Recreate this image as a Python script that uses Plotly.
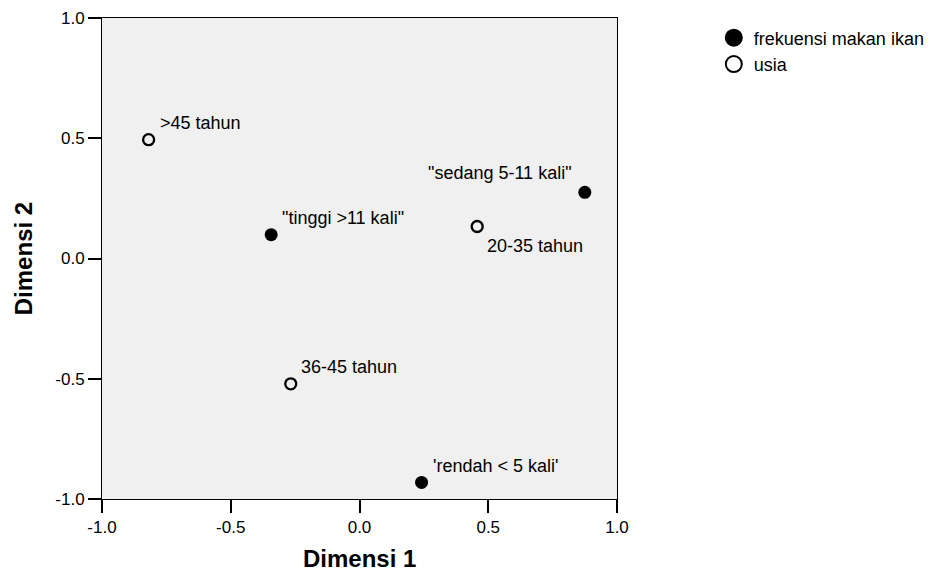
import plotly.graph_objects as go

# ---- data ----
freq_labels = ['"tinggi >11 kali"', '"sedang 5-11 kali"', "'rendah < 5 kali'"]
freq_dim1 = [-0.343, 0.875, 0.241]
freq_dim2 = [0.099, 0.275, -0.931]

usia_labels = [">45 tahun", "20-35 tahun", "36-45 tahun"]
usia_dim1 = [-0.819, 0.457, -0.267]
usia_dim2 = [0.494, 0.133, -0.521]

series_names = ["frekuensi makan ikan", "usia"]
tick_vals = [-1.0, -0.5, 0.0, 0.5, 1.0]
tick_text = ["-1.0", "-0.5", "0.0", "0.5", "1.0"]
x_title = "Dimensi 1"
y_title = "Dimensi 2"

# label placement (style): (xanchor, xshift, yshift)
freq_label_style = [("left", 9, 17), ("right", -11, 19), ("left", 9, 16)]
usia_label_style = [("left", 9, 17), ("left", 8, -19), ("left", 8, 17)]

FONT = "Liberation Sans, Arial, sans-serif"

fig = go.Figure()

fig.add_trace(go.Scatter(
    x=freq_dim1, y=freq_dim2, mode="markers", showlegend=False,
    marker=dict(symbol="circle", size=13, color="black"),
    hoverinfo="skip"))
fig.add_trace(go.Scatter(
    x=usia_dim1, y=usia_dim2, mode="markers", showlegend=False,
    marker=dict(symbol="circle-open", size=11, color="black", line=dict(width=2.3, color="black")),
    hoverinfo="skip"))

# legend-only entries
fig.add_trace(go.Scatter(
    x=[None], y=[None], mode="markers", name=series_names[0], legendgroup="a",
    marker=dict(symbol="circle", size=16, color="black", line=dict(width=2, color="black"))))
fig.add_trace(go.Scatter(
    x=[None], y=[None], mode="markers", name=series_names[1], legendgroup="b",
    marker=dict(symbol="circle-open", size=16, color="black", line=dict(width=2, color="black"))))

annotations = []
for xs, ys, labs, styles in [(freq_dim1, freq_dim2, freq_labels, freq_label_style),
                             (usia_dim1, usia_dim2, usia_labels, usia_label_style)]:
    for xv, yv, lab, (anc, xs_, ys_) in zip(xs, ys, labs, styles):
        annotations.append(dict(
            x=xv, y=yv, xref="x", yref="y", text=lab, showarrow=False,
            xanchor=anc, yanchor="middle", xshift=xs_, yshift=ys_,
            font=dict(family=FONT, size=18, color="black")))

annotations.append(dict(x=0.5, y=-0.1532, xref="paper", yref="paper", text="<b>%s</b>" % x_title,
                        showarrow=False, xanchor="center", yanchor="bottom", borderpad=0,
                        font=dict(family=FONT, size=24, color="black")))
annotations.append(dict(x=-0.152, y=0.5, xref="paper", yref="paper", text="<b>%s</b>" % y_title,
                        showarrow=False, xanchor="center", yanchor="middle", textangle=-90,
                        font=dict(family=FONT, size=24, color="black")))

axis_common = dict(
    range=[-1.0, 1.0], tickmode="array", tickvals=tick_vals, ticktext=tick_text,
    showgrid=False, zeroline=False, showline=True, mirror=True, automargin=False,
    linecolor="black", linewidth=1, ticks="outside", ticklen=13, tickwidth=2,
    tickcolor="black", tickfont=dict(family=FONT, size=17, color="black"),
    fixedrange=True)

# page body has an 8px default margin, so the figure is sized to fit the window
fig.update_layout(
    template="none",
    width=925, height=565,
    margin=dict(l=93.5, r=315.5, t=10.3, b=73.7, pad=0, autoexpand=False),
    paper_bgcolor="white", plot_bgcolor="#f0f0f0",
    xaxis=axis_common, yaxis=axis_common,
    annotations=annotations,
    showlegend=True,
    legend=dict(x=1.188, y=0.997, xanchor="left", yanchor="top",
                font=dict(family=FONT, size=18, color="black"),
                tracegroupgap=0, bgcolor="rgba(0,0,0,0)", borderwidth=0),
    font=dict(family=FONT, color="black"),
)

fig.write_html("out.html")
